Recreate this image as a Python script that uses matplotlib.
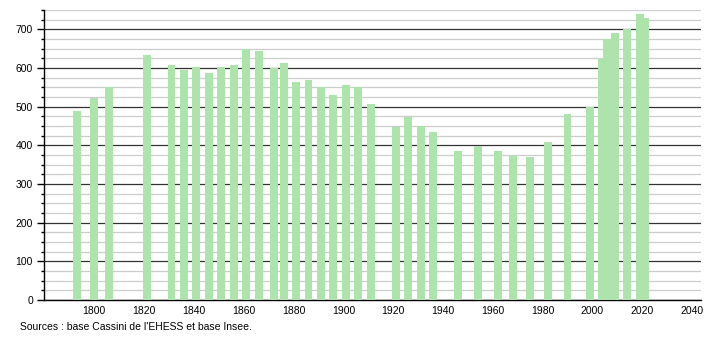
import matplotlib
matplotlib.use("Agg")
import matplotlib.pyplot as plt
from matplotlib.ticker import MultipleLocator, FixedLocator

plt.rcParams['font.family'] = ['Liberation Sans', 'DejaVu Sans']

years = [1793, 1800, 1806, 1821, 1831, 1836, 1841, 1846, 1851, 1856,
         1861, 1866, 1872, 1876, 1881, 1886, 1891, 1896, 1901, 1906,
         1911, 1921, 1926, 1931, 1936, 1946, 1954, 1962, 1968, 1975,
         1982, 1990, 1999, 2004, 2006, 2009, 2014, 2019, 2021]
population = [488, 522, 551, 633, 609, 594, 603, 586, 603, 607,
              650, 644, 599, 613, 565, 569, 551, 530, 557, 550,
              506, 447, 474, 451, 434, 386, 399, 386, 372, 369,
              408, 480, 500, 624, 676, 690, 700, 739, 730]
year_ticks = [1800, 1820, 1840, 1860, 1880, 1900, 1920, 1940, 1960, 1980,
              2000, 2020, 2040]
source = "Sources : base Cassini de l'EHESS et base Insee."

fig = plt.figure(figsize=(7.1, 3.4), dpi=100)
ax = fig.add_axes([44 / 710, 40 / 340, (701 - 44) / 710, 290 / 340])

ax.bar(years, population, width=3.2, color='#ace4ac', zorder=3, linewidth=0)

ax.set_xlim(1779.8, 2043.6)
ax.set_ylim(0, 750)
ax.xaxis.set_major_locator(FixedLocator(year_ticks))
ax.yaxis.set_major_locator(MultipleLocator(100))
ax.yaxis.set_minor_locator(MultipleLocator(25))

ax.grid(axis='y', which='major', color='#333333', linewidth=0.9, zorder=1)
ax.grid(axis='y', which='minor', color='#cccccc', linewidth=0.9, zorder=1)

for side in ['top', 'right']:
    ax.spines[side].set_visible(False)
ax.spines['left'].set_linewidth(1)
ax.spines['bottom'].set_linewidth(1)

ax.tick_params(axis='x', length=0, labelsize=7.5, pad=4)
ax.tick_params(axis='y', which='major', length=5, width=1, labelsize=7.5, pad=3)
ax.tick_params(axis='y', which='minor', length=2.5, width=1)

fig.text(20 / 710, 1 - 327 / 340, source, fontsize=7.5, va='center', ha='left')

fig.savefig('out.png', dpi=100)
